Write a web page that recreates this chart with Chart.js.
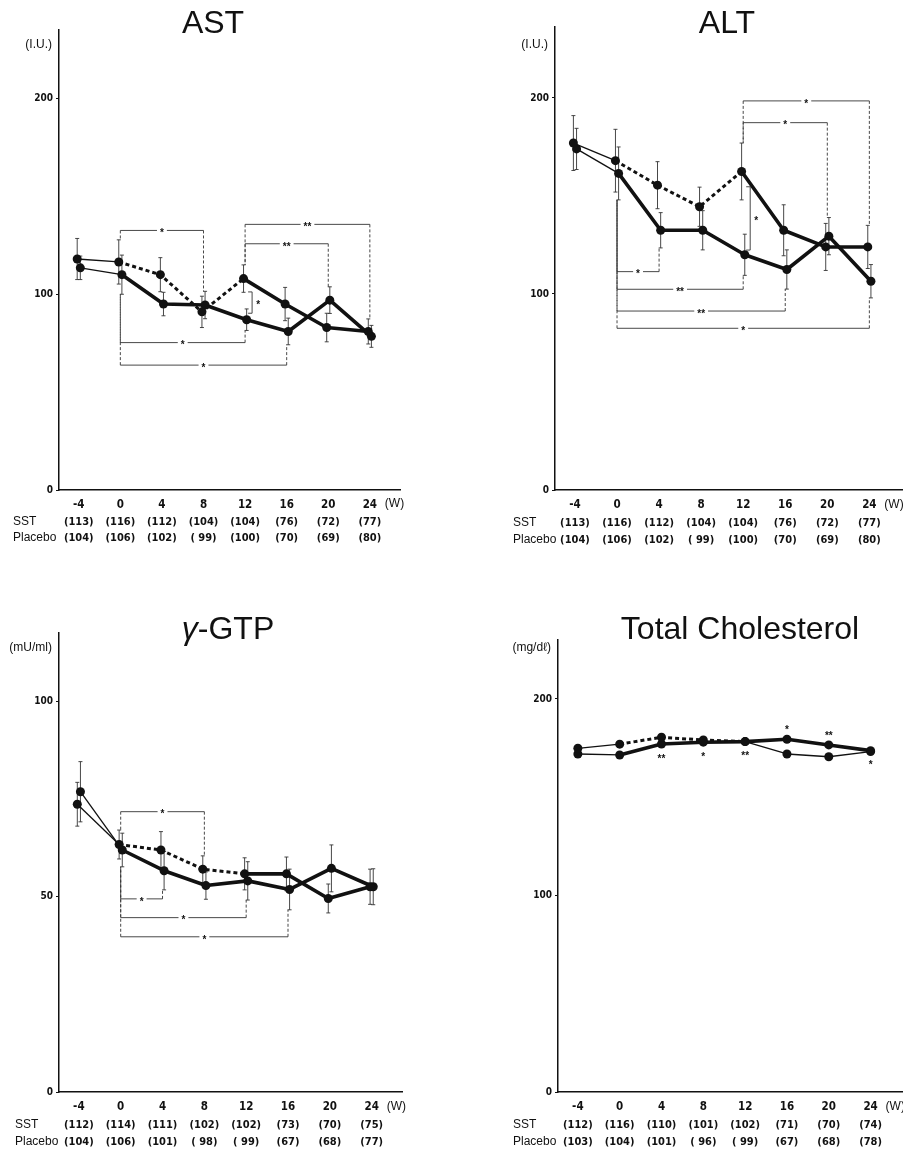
<!DOCTYPE html>
<html lang="en">
<head>
<meta charset="UTF-8">
<title>AST / ALT / γ-GTP / Total Cholesterol</title>
<script src="https://cdn.jsdelivr.net/npm/chart.js"></script>
<style>
  html, body { margin: 0; padding: 0; background: #fff; }
  #wrap { position: relative; width: 903px; height: 1151px; overflow: hidden; }
  #wrap canvas { position: absolute; }
</style>
</head>
<body>
<div id="wrap">
  <canvas id="astChart" width="450" height="580" style="left:0;top:0"></canvas>
  <canvas id="altChart" width="453" height="580" style="left:450px;top:0"></canvas>
  <canvas id="gtpChart" width="450" height="571" style="left:0;top:580px"></canvas>
  <canvas id="tcChart" width="453" height="571" style="left:450px;top:580px"></canvas>
</div>
<script>
// --- data ---
const weeks = [-4, 0, 4, 8, 12, 16, 20, 24];

// AST (I.U.)
const astPlacebo = [118, 116.5, 110, 91, 108, 95, 83, 81];
const astPlaceboErr = [10.5, 11.3, 8.7, 8, 7, 8.5, 7.3, 6.4];
const astSst = [113.5, 110, 95, 94.5, 87, 81, 97, 78.5];
const astSstErr = [6, 10, 6, 7, 5.5, 6.8, 6.8, 5.6];
const astSstN = [113, 116, 112, 104, 104, 76, 72, 77];
const astPlaceboN = [104, 106, 102, 99, 100, 70, 69, 80];
const astBrackets = [[0, 8, 132.6, '*'], [12, 24, 135.7, '**'], [12, 20, 125.8, '**'], [0, 12, 75.3, '*'], [0, 16, 63.8, '*']];
const astPairBrackets = [[12, 101.2, 90.3, '*']];

// ALT (I.U.)
const altPlacebo = [177, 168, 155.5, 144.5, 162.5, 132.5, 124, 124];
const altPlaceboErr = [14, 16, 12, 10, 14.5, 13, 12, 11];
const altSst = [174, 161.5, 132.5, 132.5, 120, 112.5, 129.5, 106.5];
const altSstErr = [10.5, 13.5, 9, 10, 10.5, 10, 9.5, 8.5];
const altSstN = [113, 116, 112, 104, 104, 76, 72, 77];
const altPlaceboN = [104, 106, 102, 99, 100, 70, 69, 80];
const altBrackets = [[12, 24, 198.5, '*'], [12, 20, 187.4, '*'], [0, 4, 111.4, '*'], [0, 12, 102.4, '**'], [0, 16, 91.3, '**'], [0, 24, 82.5, '*']];
const altPairBrackets = [[12, 154.7, 122.4, '*']];

// γ-GTP (mU/ml)
const gtpPlacebo = [73.6, 63.3, 61.9, 57, 55.8, 55.8, 49.5, 52.5];
const gtpPlaceboErr = [5.6, 3.7, 4.7, 3.4, 4.1, 4.3, 3.7, 4.5];
const gtpSst = [76.8, 61.9, 56.6, 52.8, 54, 51.8, 57.2, 52.5];
const gtpSstErr = [7.7, 4.3, 4.9, 3.5, 4.9, 5.2, 6, 4.6];
const gtpSstN = [112, 114, 111, 102, 102, 73, 70, 75];
const gtpPlaceboN = [104, 106, 101, 98, 99, 67, 68, 77];
const gtpBrackets = [[0, 8, 71.7, '*'], [0, 4, 49.4, '*'], [0, 12, 44.6, '*'], [0, 16, 39.7, '*']];

// Total Cholesterol (mg/dl)
const tcPlacebo = [174.9, 177, 180.5, 179.1, 178.3, 172, 170.6, 173.2];
const tcSst = [172, 171.5, 177.1, 178, 178.3, 179.5, 176.6, 173.7];
const tcSstN = [112, 116, 110, 101, 102, 71, 70, 74];
const tcPlaceboN = [103, 104, 101, 96, 99, 67, 68, 78];
const tcStarWeeks = [4, 8, 12, 16, 20, 24];
const tcStarLabels = ['**', '*', '**', '*', '**', '*'];
const tcStarSide = ['below', 'below', 'below', 'above', 'above', 'below'];

const yTicks100 = [0, 100, 200];
const yTicks50 = [0, 50, 100];

// --- styles ---
const THIN = 1.3, THICK = 3.6, DASHED = 3;
const INK = '#111';
const NARROW = "'Liberation Sans Narrow', 'DejaVu Sans Condensed', 'Liberation Sans', sans-serif";
const SANS = "'Liberation Sans', Arial, sans-serif";
const Y_AXIS_W = 40, X_AXIS_H = 24;

function fmtN(n, i) {
    return (weeks[i] <= 12 && n < 100) ? '( ' + n + ')' : '(' + n + ')';
}

function makeDatasets(placebo, placeboErr, sst, sstErr, jitter, placeboAfter) {
    const base = weeks.indexOf(0), cross = weeks.indexOf(12);
    return [{
        label: 'Placebo',
        data: weeks.map((w, i) => ({ x: w - jitter, y: placebo[i] })),
        errors: placeboErr,
        segment: {
            borderWidth: c => c.p0DataIndex < base ? THIN : (c.p0DataIndex < cross ? DASHED : placeboAfter),
            borderDash: c => (c.p0DataIndex >= base && c.p0DataIndex < cross) ? [4, 3] : []
        }
    }, {
        label: 'SST',
        data: weeks.map((w, i) => ({ x: w + jitter, y: sst[i] })),
        errors: sstErr,
        segment: {
            borderWidth: c => c.p0DataIndex < base ? THIN : THICK
        }
    }];
}

function starText(ctx, label, cx, cy, gap) {
    ctx.font = 'bold 10px ' + SANS;
    const w = ctx.measureText(label).width;
    if (gap) {
        ctx.fillStyle = '#fff';
        ctx.fillRect(cx - w / 2 - 3, cy - 4, w + 6, 8);
    }
    ctx.fillStyle = INK;
    ctx.textAlign = 'center';
    ctx.textBaseline = 'middle';
    ctx.fillText(label, cx, cy + 3);
}

function extras(p) {
    return {
        id: 'extras',
        beforeDatasetsDraw(chart) {
            const { ctx } = chart;
            const x = chart.scales.x, y = chart.scales.y;
            const sets = chart.data.datasets;
            ctx.save();
            ctx.strokeStyle = '#333';
            ctx.lineWidth = 0.9;

            // error bars
            sets.forEach(ds => {
                if (!ds.errors) return;
                ds.data.forEach((pt, i) => {
                    const px = x.getPixelForValue(pt.x);
                    const t = y.getPixelForValue(pt.y + ds.errors[i]);
                    const b = y.getPixelForValue(pt.y - ds.errors[i]);
                    ctx.beginPath();
                    ctx.moveTo(px, t); ctx.lineTo(px, b);
                    ctx.moveTo(px - 2, t); ctx.lineTo(px + 2, t);
                    ctx.moveTo(px - 2, b); ctx.lineTo(px + 2, b);
                    ctx.stroke();
                });
            });

            // brackets between weeks
            const legEnd = (w, up) => {
                const i = weeks.indexOf(w);
                const v = sets.map(ds => ds.data[i].y + (ds.errors ? (up ? 1 : -1) * ds.errors[i] : 0));
                return up ? Math.max(...v) : Math.min(...v);
            };
            (p.brackets || []).forEach(([from, to, level, label]) => {
                const i0 = weeks.indexOf(from);
                const up = level > Math.max(...sets.map(ds => ds.data[i0].y));
                const x1 = x.getPixelForValue(from), x2 = x.getPixelForValue(to);
                const yl = y.getPixelForValue(level);
                ctx.setLineDash([3, 2]);
                ctx.beginPath();
                ctx.moveTo(x1, yl); ctx.lineTo(x1, y.getPixelForValue(legEnd(from, up)));
                ctx.moveTo(x2, yl); ctx.lineTo(x2, y.getPixelForValue(legEnd(to, up)));
                ctx.stroke();
                ctx.setLineDash([]);
                ctx.beginPath();
                ctx.moveTo(x1, yl); ctx.lineTo(x2, yl);
                ctx.stroke();
                starText(ctx, label, (x1 + x2) / 2, yl, true);
            });

            // bracket between the two groups at one week
            (p.pairBrackets || []).forEach(([w, top, bottom, label]) => {
                const xp = x.getPixelForValue(w) + 7;
                const t = y.getPixelForValue(top), b = y.getPixelForValue(bottom);
                ctx.beginPath();
                ctx.moveTo(xp - 4, t); ctx.lineTo(xp, t); ctx.lineTo(xp, b); ctx.lineTo(xp - 4, b);
                ctx.stroke();
                starText(ctx, label, xp + 6, (t + b) / 2, false);
            });
            ctx.restore();
        },
        afterDraw(chart) {
            const { ctx, chartArea } = chart;
            const x = chart.scales.x;
            ctx.save();
            ctx.fillStyle = INK;

            // title
            ctx.textBaseline = 'alphabetic';
            ctx.textAlign = 'left';
            const widths = p.title.map(([t, it]) => {
                ctx.font = (it ? 'italic ' : '') + '32px ' + SANS;
                return ctx.measureText(t).width;
            });
            let tx = p.titleX - widths.reduce((a, b) => a + b, 0) / 2;
            p.title.forEach(([t, it], i) => {
                ctx.font = (it ? 'italic ' : '') + '32px ' + SANS;
                ctx.fillText(t, tx, p.titleY);
                tx += widths[i];
            });

            // unit
            ctx.font = '12px ' + SANS;
            ctx.textAlign = 'right';
            ctx.textBaseline = 'middle';
            ctx.fillText(p.unit, chartArea.left - 7, p.unitY);

            // week unit and counts
            const base = chartArea.bottom;
            ctx.font = '12px ' + SANS;
            ctx.textAlign = 'left';
            ctx.fillText('(W)', x.getPixelForValue(24) + 15, base + p.rowOffsets[0]);
            p.rows.forEach(([name, counts], r) => {
                const yy = base + p.rowOffsets[r + 1];
                ctx.font = '12px ' + SANS;
                ctx.textAlign = 'left';
                ctx.fillText(name, p.rowLabelX, yy);
                ctx.font = 'bold 11px ' + NARROW;
                ctx.textAlign = 'center';
                counts.forEach((n, i) => ctx.fillText(fmtN(n, i), x.getPixelForValue(weeks[i]), yy));
            });

            // significance marks next to points
            if (p.stars) {
                const meta = chart.getDatasetMeta(1);
                p.stars.weeks.forEach((w, k) => {
                    const el = meta.data[weeks.indexOf(w)];
                    const dy = p.stars.side[k] === 'below' ? 12 : -12;
                    starText(ctx, p.stars.labels[k], el.x, el.y + dy, false);
                });
            }
            ctx.restore();
        }
    };
}

function drawPanel(id, p) {
    const canvas = document.getElementById(id);
    // p.area = chart area edges in canvas pixels
    const pad = {
        left: p.area.left - Y_AXIS_W,
        right: canvas.width - p.area.right,
        top: p.area.top,
        bottom: canvas.height - p.area.bottom - X_AXIS_H
    };
    new Chart(canvas, {
        type: 'line',
        data: { datasets: p.datasets },
        options: {
            responsive: false,
            animation: false,
            layout: { padding: pad, autoPadding: false },
            elements: {
                line: { borderColor: INK, borderWidth: THICK, tension: 0, borderJoinStyle: 'round' },
                point: { radius: 4.5, hoverRadius: 4.5, backgroundColor: INK, borderWidth: 0 }
            },
            scales: {
                x: {
                    type: 'linear',
                    min: p.xMin,
                    max: p.xMax,
                    afterBuildTicks: s => { s.ticks = weeks.map(v => ({ value: v })); },
                    afterFit: s => { s.height = X_AXIS_H; },
                    grid: { display: false, drawTicks: false },
                    border: { display: true, color: INK, width: 1.5 },
                    ticks: {
                        color: INK,
                        padding: 8,
                        maxRotation: 0,
                        autoSkip: false,
                        font: { family: NARROW, size: 11.5, weight: 'bold' },
                        callback: v => String(v)
                    }
                },
                y: {
                    min: 0,
                    max: p.yMax,
                    afterBuildTicks: s => { s.ticks = p.yTicks.map(v => ({ value: v })); },
                    afterFit: s => { s.width = Y_AXIS_W; },
                    grid: { display: true, drawOnChartArea: false, drawTicks: true, tickLength: 3, color: INK, lineWidth: 1 },
                    border: { display: true, color: INK, width: 1.5 },
                    ticks: {
                        color: INK,
                        padding: 3,
                        font: { family: NARROW, size: 10, weight: 'bold' }
                    }
                }
            },
            plugins: { legend: { display: false }, tooltip: { enabled: false } }
        },
        plugins: [extras(p)]
    });
}

drawPanel('astChart', {
    datasets: makeDatasets(astPlacebo, astPlaceboErr, astSst, astSstErr, 0.15, THICK),
    area: { left: 59, right: 400, top: 30, bottom: 490 },
    xMin: -5.9, xMax: 26.9, yMax: 235, yTicks: yTicks100,
    title: [['AST', false]], titleX: 213, titleY: 33,
    unit: '(I.U.)', unitY: 45,
    rows: [['SST', astSstN], ['Placebo', astPlaceboN]], rowLabelX: 13, rowOffsets: [14, 32, 48],
    brackets: astBrackets, pairBrackets: astPairBrackets
});

drawPanel('altChart', {
    datasets: makeDatasets(altPlacebo, altPlaceboErr, altSst, altSstErr, 0.15, THICK),
    area: { left: 105, right: 453, top: 27, bottom: 490 },
    xMin: -5.9, xMax: 27.2, yMax: 236.2, yTicks: yTicks100,
    title: [['ALT', false]], titleX: 277, titleY: 33,
    unit: '(I.U.)', unitY: 45,
    rows: [['SST', altSstN], ['Placebo', altPlaceboN]], rowLabelX: 63, rowOffsets: [15, 33, 50],
    brackets: altBrackets, pairBrackets: altPairBrackets
});

drawPanel('gtpChart', {
    datasets: makeDatasets(gtpPlacebo, gtpPlaceboErr, gtpSst, gtpSstErr, 0.15, THICK),
    area: { left: 59, right: 402, top: 53, bottom: 512 },
    xMin: -5.9, xMax: 26.9, yMax: 117.4, yTicks: yTicks50,
    title: [['γ', true], ['-GTP', false]], titleX: 228, titleY: 59,
    unit: '(mU/ml)', unitY: 68,
    rows: [['SST', gtpSstN], ['Placebo', gtpPlaceboN]], rowLabelX: 15, rowOffsets: [15, 33, 50],
    brackets: gtpBrackets
});

drawPanel('tcChart', {
    datasets: makeDatasets(tcPlacebo, null, tcSst, null, 0, THIN),
    area: { left: 108, right: 453, top: 60, bottom: 512 },
    xMin: -5.9, xMax: 27.1, yMax: 230, yTicks: yTicks100,
    title: [['Total Cholesterol', false]], titleX: 290, titleY: 59,
    unit: '(mg/dℓ)', unitY: 68,
    rows: [['SST', tcSstN], ['Placebo', tcPlaceboN]], rowLabelX: 63, rowOffsets: [15, 33, 50],
    stars: { weeks: tcStarWeeks, labels: tcStarLabels, side: tcStarSide }
});
</script>
</body>
</html>
